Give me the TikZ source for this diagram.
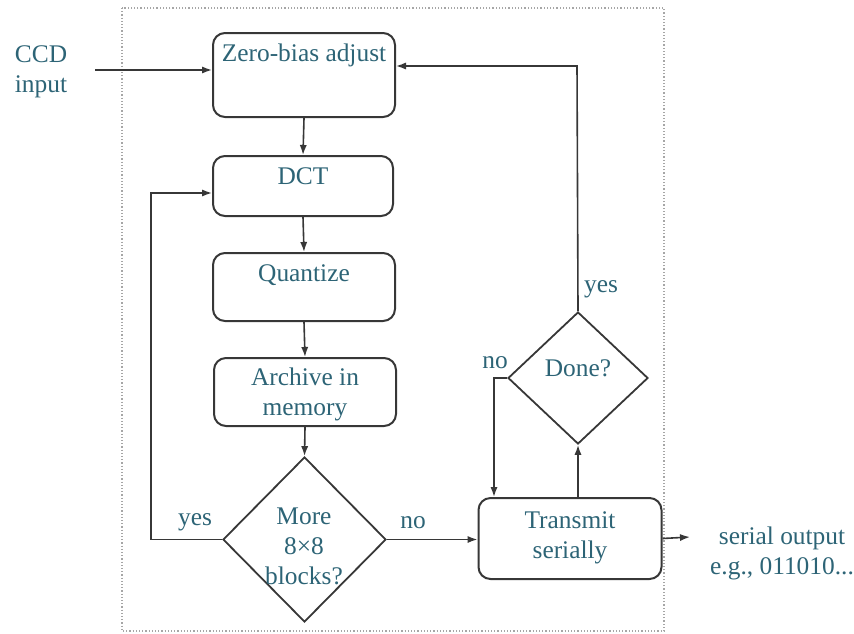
\documentclass[tikz,border=0pt]{standalone}
\usepackage{fontspec}
\setmainfont{Liberation Serif}
\usetikzlibrary{shapes.geometric,arrows.meta}
\definecolor{textc}{RGB}{45,100,118}
\definecolor{linec}{RGB}{55,55,55}
\begin{document}
\begin{tikzpicture}[x=0.5pt,y=-0.5pt,
  txt/.style={text=textc,font=\fontsize{12.7}{15}\selectfont,align=center,inner sep=0pt},
  box/.style={draw=linec,line width=1pt,rounded corners=6pt,minimum width=#1},
  box/.default=91pt,
  dia/.style={draw=linec,line width=0.9pt,diamond,inner sep=0pt},
  conn/.style={draw=linec,line width=0.8pt},
  arr/.style={conn,-{Latex[length=5pt,width=3.6pt]}}]
\useasboundingbox (0,0) rectangle (854,633);
\draw[densely dotted,gray!70,line width=0.6pt] (122,8) rectangle (664,631);
% boxes
\node[box,minimum height=42pt] (zb) at (304,75) {};
\node[box=90pt,minimum height=30pt] (dct) at (303,186) {};
\node[box,minimum height=34pt] (qu) at (304,287) {};
\node[box,minimum height=34pt] (ar) at (305,392) {};
\node[box=91.5pt,minimum height=40.5pt] (tx) at (570,538.5) {};
\node[dia,minimum width=81.5pt,minimum height=82.5pt] (more) at (304.5,539.5) {};
\node[dia,minimum width=70pt,minimum height=66pt] (done) at (578,378) {};
% texts
\node[txt] (tzb) at (304,55) {Zero-bias adjust};
\node[txt] (tdct) at (303,176) {DCT};
\node[txt] (tqu) at (304,275) {Quantize};
\node[txt] (tar) at (305,394) {Archive in\\memory};
\node[txt] (tmore) at (304,546) {More\\8×8\\blocks?};
\node[txt] (tdone) at (578,368) {Done?};
\node[txt] (ttx) at (570,538) {Transmit\\serially};
\node[txt] (tout) at (782,553) {serial output\\e.g., 011010...};
\node[txt] (tccd) at (41,72) {CCD\\input};
\node[txt] (lyes1) at (195,522) {yes};
\node[txt] (lno1) at (413,523) {no};
\node[txt] (lno2) at (495,363) {no};
\node[txt] (lyes2) at (601,289) {yes};
% connectors
\coordinate (ccdin) at (95,70);
\draw[arr] (ccdin) -- (ccdin -| zb.west);
\draw[arr] (zb.south) -- (dct.north);
\draw[arr] (dct.south) -- (qu.north);
\draw[arr] (qu.south) -- (ar.north);
\draw[arr] (ar.south) -- (more.north);
\coordinate (lp) at (151,193);
\draw[arr] (more.west) -| (lp) -- (lp -| dct.west);
\draw[arr] (more.east) -- (more.east -| tx.west);
\draw[arr] (done.south |- tx.north) -- (done.south);
\coordinate (nc) at (494,378);
\draw[arr] (done.west) -- (nc) -- (nc |- tx.north);
\coordinate (yc) at (577,66);
\draw[arr] (done.north) -- (yc) -- (yc -| zb.east);
\coordinate (outc) at (690,537);
\draw[arr] (tx.east) -- (outc);
\end{tikzpicture}
\end{document}
